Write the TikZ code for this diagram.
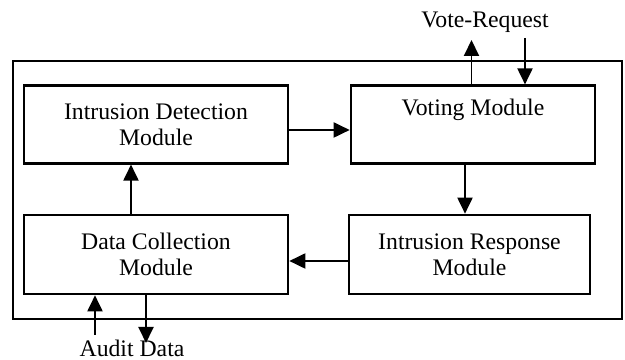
\documentclass[tikz,border=0pt]{standalone}
\usepackage{fontspec}
\setmainfont{Liberation Serif}
\usetikzlibrary{arrows.meta}

\begin{document}
\begin{tikzpicture}[
    box/.style={rectangle, draw, line width=1.5pt, minimum height=1.55cm, align=center, font=\fontsize{13.5}{15}\selectfont},
    label/.style={font=\fontsize{13.5}{15}\selectfont, inner sep=1pt},
    arrow/.style={-{Triangle[length=0.32cm,width=0.3cm]}, line width=1.1pt}
]
\useasboundingbox (0,0) rectangle (12.5,7.2);

% outer frame
\draw[line width=0.8pt] (0.26,0.82) rectangle (12.44,5.98);

\node[box, minimum width=5.28cm] (idm) at (3.12,4.71) {Intrusion Detection\\Module};
\node[box, minimum width=4.88cm] (vote) at (9.46,4.71) {Voting Module\\\strut};
\node[box, minimum width=5.28cm, minimum height=1.58cm] (dcm) at (3.12,2.11) {Data Collection\\Module};
\node[box, minimum width=4.82cm, minimum height=1.58cm] (irm) at (9.39,2.11) {Intrusion Response\\Module};

\node[label] (vreq) at (9.7,6.76) {Vote-Request};
\node[label] (audit) at (2.64,0.24) {Audit Data};

\coordinate (vout) at (9.43,6.4);
\coordinate (vin) at (10.5,6.44);
\coordinate (ain) at (1.9,0.5);
\coordinate (aout) at (2.92,0.34);

\draw[arrow] ([yshift=-1.1mm]idm.east) -- ([yshift=-1.1mm]vote.west);
\draw[arrow] ([xshift=-1.6mm]vote.south) -- ([xshift=-0.9mm]irm.north);
\draw[arrow] ([yshift=-1.3mm]irm.west) -- ([yshift=-1.3mm]dcm.east);
\draw[arrow] ([xshift=-5mm]dcm.north) -- ([xshift=-5mm]idm.south);
\draw[arrow] (vout |- vote.north) -- (vout);
\draw[arrow] (vin) -- (vin |- vote.north);
\draw[arrow] (ain) -- (ain |- dcm.south);
\draw[arrow] (aout |- dcm.south) -- (aout);

\end{tikzpicture}
\end{document}
